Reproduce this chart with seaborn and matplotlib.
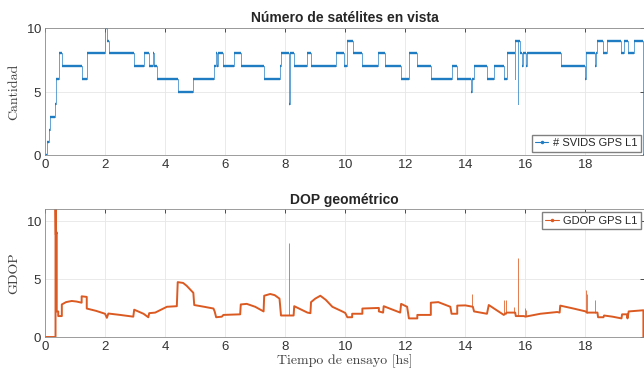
import numpy as np
import matplotlib
matplotlib.use("Agg")
import matplotlib.pyplot as plt
import seaborn as sns
from matplotlib.lines import Line2D

# --- satellites in view (step breakpoints: time [hs], count) ---
sv_t = [0, 0.08, 0.12, 0.18, 0.33, 0.36, 0.37, 0.46, 0.56, 1.24, 1.39, 2.0, 2.06, 2.13,
        2.98, 3.3, 3.47, 3.59, 3.62, 3.72, 4.42, 4.94, 5.64, 5.68, 5.74, 5.76, 5.92,
        6.28, 6.52, 7.28, 7.83, 7.87, 8.13, 8.15, 8.28, 8.72, 8.87, 9.68, 9.96, 10.07,
        10.26, 10.57, 11.09, 11.31, 11.87, 12.12, 12.40, 12.85, 13.54, 13.73, 14.20,
        14.22, 14.29, 14.71, 14.96, 15.29, 15.38, 15.64, 15.66, 15.75, 15.77, 15.81,
        15.90, 15.92, 16.02, 16.04, 17.18, 18.0, 18.02, 18.32, 18.34, 18.4, 18.59,
        18.73, 19.2, 19.29, 19.42, 19.62, 19.93, 19.95]
sv_n = [0, 1, 2, 3, 4, 5, 6, 8, 7, 6, 8, 10, 9, 8,
        7, 8, 7, 8, 7, 6, 5, 6, 7, 8, 7, 8, 7,
        8, 7, 6, 7, 8, 4, 8, 7, 8, 7, 8, 7, 9,
        8, 7, 8, 7, 6, 8, 7, 6, 7, 6, 5,
        6, 7, 6, 7, 6, 8, 6, 9, 4, 9, 8,
        7, 8, 7, 8, 7, 6, 8, 7, 8, 9, 8,
        9, 8, 9, 8, 9, 0, 0]

# --- geometric DOP (time [hs], value) ---
gd_t = [0, 0.35, 0.35, 0.36, 0.39, 0.39, 0.44, 0.44, 0.56, 0.56, 0.7, 0.89, 1.05, 1.22,
        1.22, 1.39, 1.39, 1.7, 2.0, 2.06, 2.11, 2.5, 2.94, 2.97, 3.28, 3.44, 3.47, 3.67,
        4.06, 4.39, 4.42, 4.6, 4.72, 4.94, 4.97, 5.3, 5.61, 5.65, 5.7, 5.89, 5.94, 6.5,
        6.52, 6.72, 7.0, 7.28, 7.3, 7.5, 7.65, 7.81, 7.86, 8.28, 8.3, 8.74, 8.84, 8.86,
        9.0, 9.17, 9.35, 9.57, 9.9, 10.0, 10.07, 10.23, 10.23, 10.57, 10.57, 11.12, 11.12,
        11.26, 11.28, 11.83, 11.86, 12.06, 12.12, 12.4, 12.4, 12.85, 12.85, 13.1, 13.5,
        13.54, 13.73, 13.73, 14.0, 14.25, 14.29, 14.72, 14.78, 15.28, 15.38, 15.66, 15.68,
        15.95, 16.0, 16.5, 17.06, 17.14, 17.16, 17.6, 18.01, 18.04, 18.4, 18.42, 18.6,
        18.62, 18.9, 19.2, 19.22, 19.38, 19.4, 19.44, 19.93, 19.93, 19.95]
gd_v = [0, 0, 11.5, 8.8, 9.0, 2.2, 2.2, 1.8, 1.8, 2.8, 3.0, 3.1, 3.05, 2.95,
        3.5, 3.45, 2.45, 2.25, 2.0, 1.65, 2.02, 1.9, 1.75, 2.35, 2.0, 1.7, 2.05, 2.1,
        2.6, 2.65, 4.72, 4.65, 4.4, 3.8, 2.75, 2.6, 2.45, 2.2, 1.7, 1.75, 1.9, 1.95,
        2.8, 2.85, 2.6, 2.2, 3.55, 3.7, 3.6, 3.3, 1.85, 1.85, 2.65, 2.1, 2.05, 3.0,
        3.3, 3.55, 3.2, 2.6, 2.2, 2.07, 1.7, 1.7, 2.0, 2.0, 2.45, 2.5, 2.2,
        2.1, 2.65, 2.1, 2.85, 2.6, 1.6, 1.6, 1.9, 1.9, 2.95, 3.0, 2.6,
        2.0, 2.0, 2.7, 2.72, 2.6, 2.2, 2.0, 2.75, 1.9, 2.1, 2.1, 1.8,
        1.8, 1.75, 2.0, 2.15, 2.1, 2.7, 2.45, 2.2, 2.1, 2.1, 1.7, 1.7,
        1.85, 1.75, 1.6, 1.95, 1.95, 1.6, 2.2, 2.3, 0, 0]

# isolated GDOP outliers (time, from, to)
spk_t = [8.14, 14.21, 15.30, 15.36, 15.62, 15.76, 15.98, 16.02, 18.02, 18.05, 18.32]
spk_lo = [1.85, 2.65, 1.95, 2.0, 2.1, 1.8, 1.8, 1.8, 2.15, 2.1, 2.1]
spk_hi = [8.1, 3.7, 3.2, 3.15, 2.55, 6.8, 2.5, 2.3, 4.0, 3.7, 3.2]

blue = "#1f7cc2"
orange = "#DB5A22"
tick_c = "#333333"
sans = ["Liberation Sans", "DejaVu Sans"]
serif = "cmr10"

sns.set_theme(style="whitegrid")
plt.rcParams["font.family"] = sans
plt.rcParams["axes.formatter.use_mathtext"] = True

fig = plt.figure(figsize=(6.44, 3.74), dpi=100)
ax1 = fig.add_axes([0.0699, 0.5856, 0.9301, 0.3394])
ax2 = fig.add_axes([0.0699, 0.0989, 0.9301, 0.3420])

# top: satellites
sns.lineplot(x=sv_t, y=sv_n, ax=ax1, color=blue, lw=0.7, alpha=0.7,
             drawstyle="steps-post", estimator=None, sort=False)
ax1.hlines(sv_n[:-1], sv_t[:-1], sv_t[1:], color=blue, lw=1.7)
ax1.set_ylim(0, 10)
ax1.set_yticks([0, 5, 10])
ax1.set_ylabel("Cantidad", family=serif, fontsize=10, color="#404040")
ax1.set_title("Número de satélites en vista", fontsize=10, fontweight="bold", pad=4)
ax1.legend(handles=[Line2D([], [], color=blue, lw=0.8, marker=".", ms=3)],
           labels=["# SVIDS GPS L1"], loc="lower right", fontsize=8, fancybox=False,
           edgecolor="#808080", framealpha=1, handlelength=1.2, handletextpad=0.4,
           borderpad=0.3, borderaxespad=0.3)

# bottom: GDOP
sns.lineplot(x=gd_t, y=gd_v, ax=ax2, color=orange, lw=1.4,
             estimator=None, sort=False)
ax2.vlines(spk_t, spk_lo, spk_hi, color=orange, lw=0.7, alpha=0.8)
ax2.set_ylim(0, 11)
ax2.set_yticks([0, 5, 10])
ax2.set_ylabel("GDOP", family=serif, fontsize=10, color="#404040")
ax2.set_xlabel("Tiempo de ensayo [hs]", family=serif, fontsize=10, color="#404040",
               labelpad=1)
ax2.set_title("DOP geométrico", fontsize=10, fontweight="bold", pad=4)
ax2.legend(handles=[Line2D([], [], color=orange, lw=0.8, marker=".", ms=3)],
           labels=["GDOP GPS L1"], loc="upper right", fontsize=8, fancybox=False,
           edgecolor="#808080", framealpha=1, handlelength=1.2, handletextpad=0.4,
           borderpad=0.3, borderaxespad=0.3)

for ax in (ax1, ax2):
    ax.set_xlim(0, 19.95)
    ax.set_xticks(np.arange(0, 19, 2))
    ax.grid(True, color="#e6e6e6", lw=0.6)
    ax.tick_params(direction="in", length=3, width=0.6, top=True, right=True,
                   labelsize=9.5, colors=tick_c, pad=2)
    for s in ax.spines.values():
        s.set_color("#8c8c8c")
        s.set_linewidth(0.6)
    ax.set_facecolor("white")

fig.savefig("out.png", dpi=100)
